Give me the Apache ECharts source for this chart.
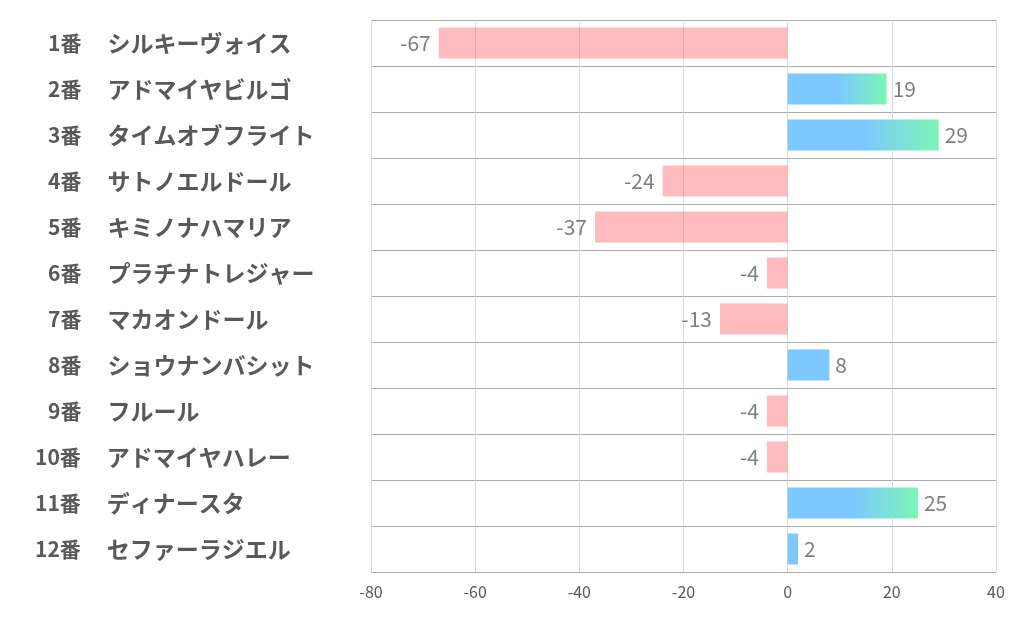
<!DOCTYPE html>
<html><head><meta charset="utf-8">
<script src="https://cdn.jsdelivr.net/npm/echarts@6/dist/echarts.min.js"></script>
<style>html,body{margin:0;padding:0;background:#fff}#c{width:1022px;height:626px}</style>
</head><body><div id="c"></div>
<script>
const numbers = ['1番','2番','3番','4番','5番','6番','7番','8番','9番','10番','11番','12番'];
const names = ['シルキーヴォイス','アドマイヤビルゴ','タイムオブフライト','サトノエルドール','キミノナハマリア','プラチナトレジャー','マカオンドール','ショウナンバシット','フルール','アドマイヤハレー','ディナースタ','セファーラジエル'];
const values = [-67, 19, 29, -24, -37, -4, -13, 8, -4, -4, 25, 2];
const xTicks = [-80, -60, -40, -20, 0, 20, 40];

const categories = numbers.map((n, i) => n + '|' + names[i]);
const BLUE = '#7CC8FF', GREEN = '#7CF5B6', PINK = 'rgba(255,124,130,0.52)';

const data = values.map(v => {
  let color;
  if (v < 0) color = PINK;
  else if (v >= 10) color = new echarts.graphic.LinearGradient(0, 0, 1, 0, [
    {offset: 0, color: BLUE}, {offset: 0.5, color: BLUE}, {offset: 1, color: GREEN}]);
  else color = BLUE;
  return {
    value: v,
    itemStyle: {color},
    label: {position: v < 0 ? 'left' : 'right', distance: v < 0 ? 8 : 6}
  };
});

const chart = echarts.init(document.getElementById('c'));
chart.setOption({
  animation: false,
  grid: {left: 371, right: 26, top: 20, bottom: 54, containLabel: false},
  xAxis: {
    type: 'value', min: xTicks[0], max: xTicks[xTicks.length - 1], interval: 20,
    axisLine: {show: false}, axisTick: {show: false},
    axisLabel: {color: '#595959', fontSize: 16, margin: 12, fontFamily: 'Noto Sans CJK JP'},
    splitLine: {show: true, lineStyle: {color: '#D9D9D9', width: 1}}
  },
  yAxis: {
    type: 'category', data: categories, inverse: true,
    axisLine: {show: false}, axisTick: {show: false},
    splitLine: {show: true, lineStyle: {color: '#ABABAB', width: 1}},
    axisLabel: {
      align: 'left', margin: 336, interval: 0,
      formatter: v => {
        const p = v.split('|');
        const tag = p[0].length > 2 ? 'n2' : 'n1';
        return '{' + tag + '|' + p[0] + '}{s|' + p[1] + '}';
      },
      rich: {
        n1: {fontSize: 21, fontWeight: 'bold', color: '#595959', padding: [0, 0, 0, 13], fontFamily: 'Noto Sans CJK JP'},
        n2: {fontSize: 21, fontWeight: 'bold', color: '#595959', fontFamily: 'Noto Sans CJK JP'},
        s: {fontSize: 23, fontWeight: 'bold', color: '#595959', padding: [0, 0, 0, 26], fontFamily: 'Noto Sans CJK JP'}
      }
    }
  },
  series: [{
    type: 'bar', data: data, barWidth: 31,
    label: {show: true, color: '#7F7F7F', fontSize: 21, fontFamily: 'Noto Sans CJK JP'},
    z: 3
  }]
});
</script></body></html>
